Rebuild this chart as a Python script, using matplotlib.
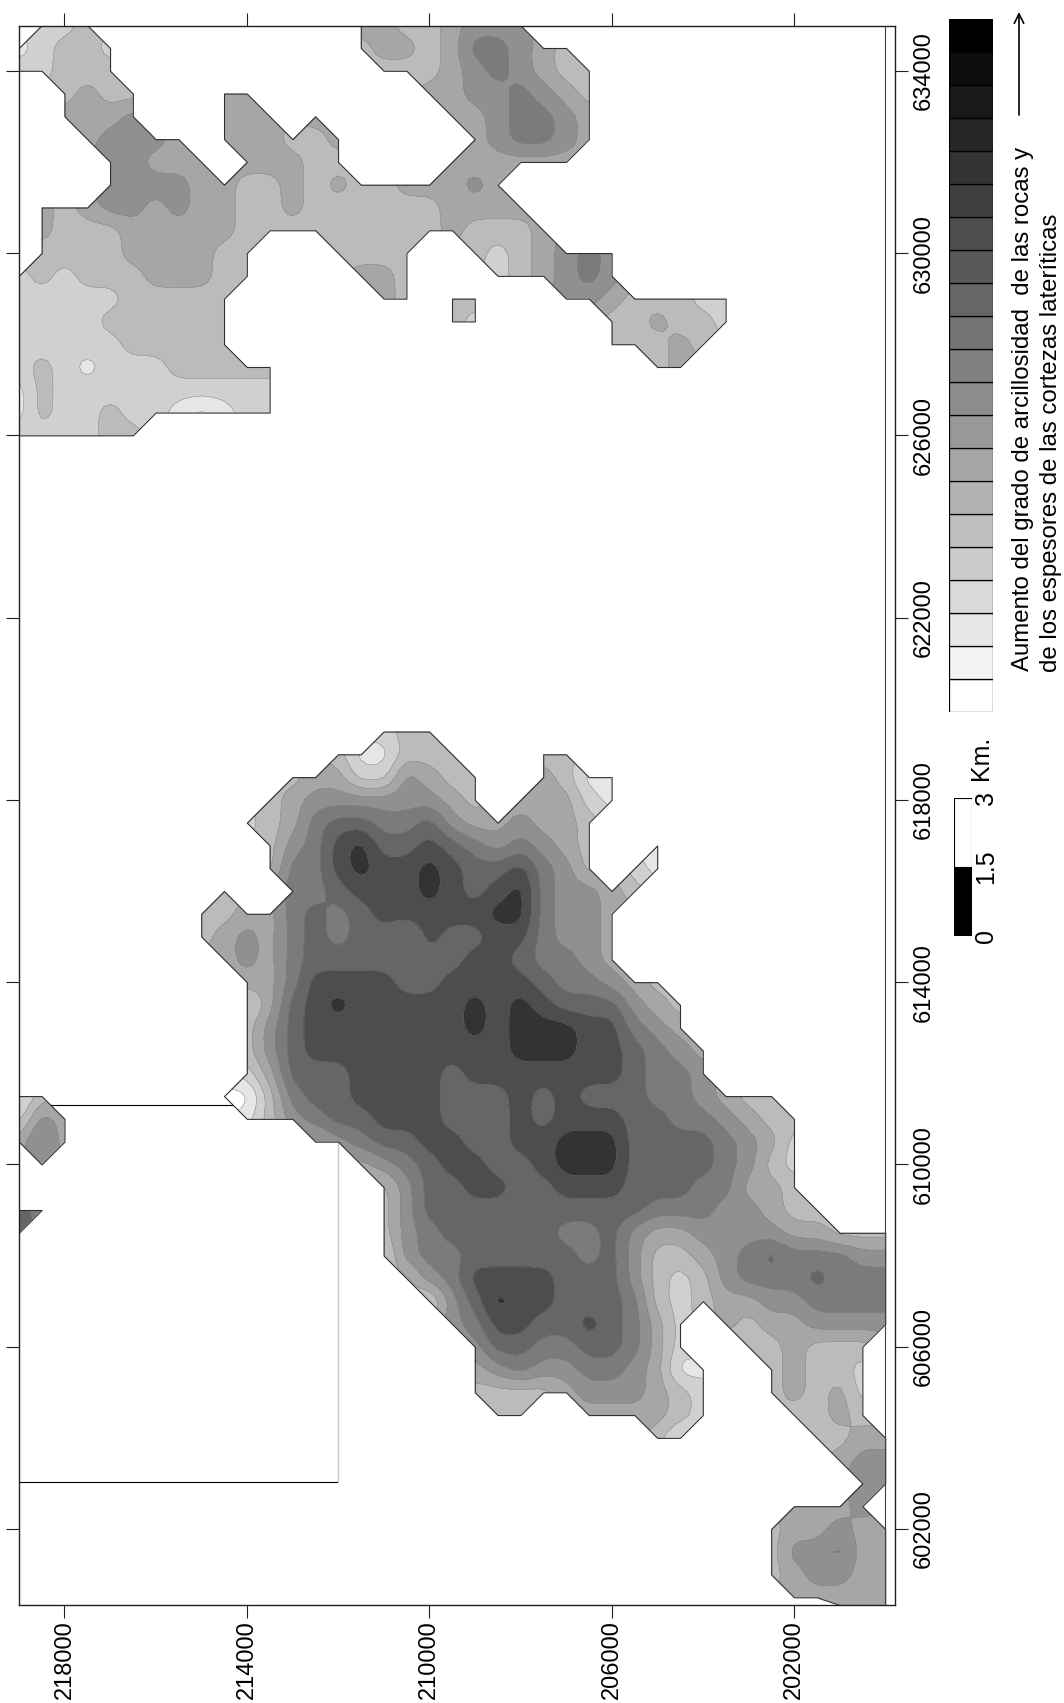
import numpy as np
import matplotlib
matplotlib.use("Agg")
import matplotlib.pyplot as plt
from matplotlib.transforms import blended_transform_factory

plt.rcParams['font.family'] = ['Liberation Sans', 'DejaVu Sans']

W, H = 1064, 1703

# Graded clay value per 500 m grid node ('.' = blank). Rows run from X=635000 southwards,
# columns from Y=219000 towards Y=200000.
clay_rows = [
    ".223" + "."*11 + "44334555",
    "12332" + "."*10 + "3443466543",
    "22333" + "."*11 + "3334565433",
    "..3433...44" + "."*7 + "44556543",
    "..4445...444.4.....4456654",
    "...45554.444334.....456654",
    "....55444.44433....444444",
    "....555544334343344454",
    ".4345545443343333334444",
    ".43334444433333333343334",
    ".3333444433...3333..3234565",
    "23233344433....443...234565",
    "2222233333......43.33...55433322",
    "2222333333" + "."*9 + "32" + "."*5 + "334332",
    "2222233333" + "."*16 + "33343",
    "232122233333" + "."*16 + "34",
    "132222222222",
    "132232210122",
    "222233",
    "", "", "", "", "", "", "", "", "", "", "", "",
    "."*16 + "233",
    "."*14 + "311333...33",
    "."*12 + "344225433..4311",
    "."*11 + "3455555543.44421",
    "."*10 + "2346776675445443",
    "."*11 + "356897787656543..1",
    "."*11 + "366898898778653.21",
    "."*9 + "3.." + "6678889878965543",
    "."*8 + "3344676788888996554",
    "."*8 + "3454676776877886554",
    "."*9 + "454677777778876654",
    "."*10 + "4468888778888766543",
    "."*10 + "24789888889898777543",
    "."*10 + "35788888889899988654",
    "."*10 + "357888888888999887654",
    "."*10 + "247778888788888887665",
    "13" + "."*7 + "0036778888777878777665433",
    "254" + "."*7 + "1356778887778788877665433",
    "464" + "."*10 + "4567788778899977776542",
    ".4" + "."*13 + "45678877899977776532",
    "."*16 + "3577887788877766443",
    "85" + "."*14 + "35777777777766655433",
    "7" + "."*15 + "35677777667544555544333",
    "."*16 + "25667777767533456766655",
    "."*17 + "3568888777532356667666",
    "."*18 + "257988777632344556666",
    "."*19 + "56887787642" + "." + "43445555",
    "."*20 + "5776677642" + ".." + "334333",
    "."*20 + "45655665411" + ".." + "34332",
    "."*20 + "33334555432" + ".." + "34342",
    "."*21 + "33" + ".." + "444432" + "..." + "3343",
    "."*28 + "31" + "."*5 + "3344",
    "."*36 + "455",
    "."*37 + "55",
    "."*34 + "4445",
    "."*33 + "344544",
    "."*33 + "355644",
    "."*33 + "345544",
    "."*34 + "44444",
    "."*36 + "444",
]
grid_x_start, grid_y_start, grid_step = 635000, 219000, 500
band_grays = ['#ffffff', '#e6e6e6', '#d0d0d0', '#bbbbbb', '#a6a6a6',
              '#909090', '#7b7b7b', '#666666', '#4d4d4d', '#333333']
x_ticks = [602000, 606000, 610000, 614000, 618000, 622000, 626000, 630000, 634000]
y_ticks = [218000, 214000, 210000, 206000, 202000]
box_y = [219000, 212000, 212000, 219000]
box_x = [611300, 611300, 603040, 603040]
legend_classes = list(range(21))
scale_km = [0, 1.5, 3]
legend_lines = ["Aumento del grado de arcillosidad  de las rocas y",
                "de los espesores de las cortezas lateríticas"]

n_cols = 39
Z = np.full((len(clay_rows), n_cols), np.nan)
for r, row in enumerate(clay_rows):
    for c, ch in enumerate(row):
        if ch != '.':
            Z[r, c] = int(ch)
X_LIM = (218990, 199785)
Y_LIM = (600332, 634983)
Xc = grid_y_start - grid_step * np.arange(n_cols)
Yc = np.maximum(grid_x_start - grid_step * np.arange(len(clay_rows)), Y_LIM[0])


def render_surface(values, factor=4, sigma_cells=0.28):
    """Smooth drawing surface for the bands, the way the gridding software contours."""
    F = values.copy()
    nr, nc = F.shape
    for _ in range(3):
        p = np.pad(F, 1, constant_values=np.nan)
        st = np.stack([p[1 + a:nr + 1 + a, 1 + b:nc + 1 + b]
                       for a in (-1, 0, 1) for b in (-1, 0, 1)])
        ok = ~np.isnan(st)
        cnt = ok.sum(axis=0)
        mean = np.where(cnt > 0, np.nansum(st, axis=0) / np.maximum(cnt, 1), np.nan)
        F = np.where(np.isnan(F), mean, F)
    F = np.nan_to_num(F, nan=0.0)
    ri = np.linspace(0, nr - 1, (nr - 1) * factor + 1)
    ci = np.linspace(0, nc - 1, (nc - 1) * factor + 1)
    F = np.array([np.interp(ci, np.arange(nc), rw) for rw in F])
    F = np.array([np.interp(ri, np.arange(nr), cl) for cl in F.T]).T
    s = sigma_cells * factor
    rad = int(3 * s) + 1
    k = np.exp(-0.5 * (np.arange(-rad, rad + 1) / s) ** 2)
    k /= k.sum()
    conv = lambda a: np.convolve(np.pad(a, rad, mode='edge'), k, mode='valid')
    F = np.apply_along_axis(conv, 0, F)
    F = np.apply_along_axis(conv, 1, F)
    return ri, ci, F


def rect(x0, y0, x1, y1):
    return [x0 / W, 1 - y1 / H, (x1 - x0) / W, (y1 - y0) / H]


fig = plt.figure(figsize=(W / 100, H / 100), dpi=100)
ax = fig.add_axes(rect(19.3, 26, 895, 1605))
ax.set_xlim(*X_LIM)
ax.set_ylim(*Y_LIM)

ax.plot(box_y, box_x, color='black', lw=0.8, zorder=1)
ax.plot(box_y[1:3], box_x[1:3], color='#cccccc', lw=0.8, zorder=1.1)

out = ax.contourf(Xc, Yc, np.ma.masked_invalid(np.where(np.isnan(Z), np.nan, 1.0)),
                  levels=[0, 2], colors='none', corner_mask=True, zorder=2.2)
out.set_edgecolor('#303030')
out.set_linewidth(0.8)
outline = out.get_paths()[0]

ri, ci, F = render_surface(Z)
Xf = grid_y_start - grid_step * ci
Yf = grid_x_start - grid_step * ri
levels = np.arange(-0.5, 10, 1)
fill = ax.contourf(Xf, Yf, np.clip(F, -0.4, 9.4), levels=levels, colors=band_grays, zorder=2)
fill.set_clip_path(outline, transform=ax.transData)
lines = ax.contour(Xf, Yf, F, levels=levels[1:-1], colors='#858585', linewidths=0.3, zorder=2.1)
lines.set_clip_path(outline, transform=ax.transData)
ax.axvline(200000, color='#404040', lw=0.8, zorder=3)

for s in ax.spines.values():
    s.set_linewidth(1.0)
    s.set_color('#202020')
ax.set_xticks(y_ticks)
ax.set_yticks(x_ticks)
ax.tick_params(axis='both', direction='out', length=9.2, width=0.8, color='#202020')
ax.tick_params(axis='x', top=True, bottom=True, labelbottom=True, labeltop=False,
               labelrotation=90, labelsize=17, pad=2)
ax.tick_params(axis='y', left=True, right=True, labelleft=False, labelright=True,
               labelrotation=90, labelsize=17, pad=3.5)
for t in ax.get_yticklabels():
    t.set_va('center')
ax.ticklabel_format(style='plain', useOffset=False)

# class legend
lg = fig.add_axes(rect(949, 19, 993, 712))
lg.barh(legend_classes, [1] * len(legend_classes), height=1,
        color=[str(1 - k / 20) for k in legend_classes], edgecolor='black', lw=0.9)
lg.set_xlim(0, 1)
lg.set_ylim(-0.5, 20.5)
lg.axis('off')
for line, xp, yp in zip(legend_lines, (1023, 1051), (671, 672)):
    fig.text(xp / W, 1 - yp / H, line, rotation=90, ha='center', va='bottom', fontsize=17.3)
ax.annotate('', xy=(1019 / W, 1 - 12 / H), xytext=(1019 / W, 1 - 115 / H),
            xycoords='figure fraction', textcoords='figure fraction',
            arrowprops=dict(arrowstyle='->', lw=1.2, mutation_scale=17, color='black',
                            shrinkA=0, shrinkB=0), annotation_clip=False)

# scale bar
sb = fig.add_axes(rect(954, 798, 972, 936))
sb.bar([0.5, 0.5], [scale_km[1] - scale_km[0], scale_km[2] - scale_km[1]], width=1,
       bottom=scale_km[:2], color=['black', 'white'], edgecolor='black', lw=0.8)
sb.set_xlim(0, 1)
sb.set_ylim(0, 3)
sb.axis('off')
tr = blended_transform_factory(sb.transAxes, sb.transData)
for v, lab in zip(scale_km, ['0', '1.5', '3']):
    sb.text(1.78, v, lab, rotation=90, ha='center', va='center', fontsize=18,
            transform=tr, clip_on=False)
sb.text(1.5, 3.87, 'Km.', rotation=90, ha='center', va='center', fontsize=18,
        transform=tr, clip_on=False)

fig.savefig('out.png', dpi=100, facecolor='white')
